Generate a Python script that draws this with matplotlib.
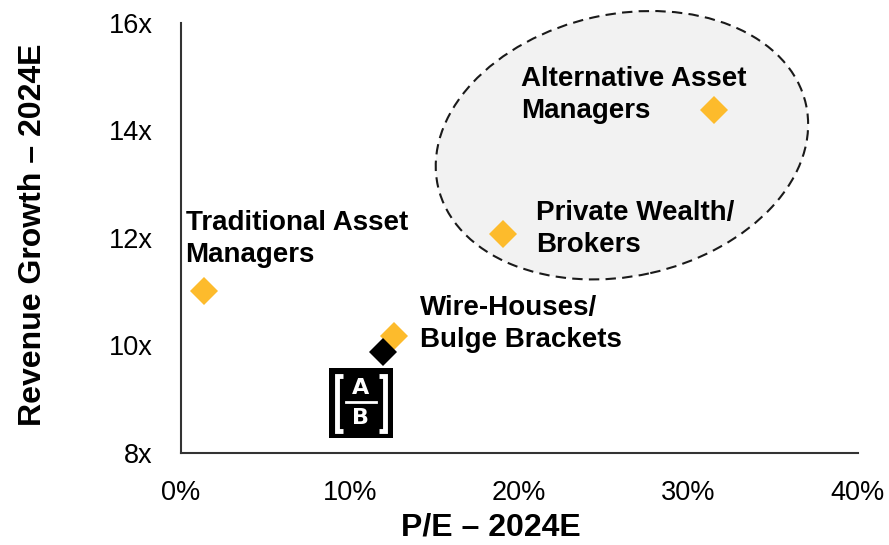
import matplotlib
matplotlib.use('Agg')
import matplotlib.pyplot as plt
from matplotlib.patches import Ellipse
from matplotlib.transforms import ScaledTranslation

plt.rcParams['font.family'] = ['Liberation Sans', 'DejaVu Sans']

# data
segments = ['Traditional Asset\nManagers', 'Wire-Houses/\nBulge Brackets',
            'Private Wealth/\nBrokers', 'Alternative Asset\nManagers']
pe = [1.35, 12.6, 19.05, 31.5]
growth = [11.0, 10.18, 12.06, 14.37]
ab_pe = 11.97
ab_growth = 9.88
xticks = [0, 10, 20, 30, 40]
xtick_labels = ['0%', '10%', '20%', '30%', '40%']
yticks = [8, 10, 12, 14, 16]
ytick_labels = ['8x', '10x', '12x', '14x', '16x']

# label offsets from each marker, in pixels (right, up)
label_offsets = [(-18, 81), (26, 41), (33, 34), (-193, 44)]

W, H = 889, 545
fig = plt.figure(figsize=(W / 100, H / 100), dpi=100)
ax = fig.add_axes([180.7 / W, 1 - 452.7 / H, 677 / W, 430 / H])

ax.set_xlim(0, 40)
ax.set_ylim(8, 16)

# dashed ellipse around the high-growth group
ell = Ellipse((0, 0), 3.77, 2.62, angle=12.5, facecolor='#F2F2F2',
              edgecolor='#1a1a1a', linestyle=(0, (5, 3)), linewidth=1.5,
              transform=fig.dpi_scale_trans + ScaledTranslation(26.07, 13.72, ax.transData),
              zorder=1, clip_on=False)
ax.add_patch(ell)

ax.plot(pe, growth, linestyle='none', marker='D', markersize=14.5,
        color='#FDBB2C', markeredgewidth=0, zorder=3)
ax.plot([ab_pe], [ab_growth], linestyle='none', marker='D', markersize=14.5,
        color='black', markeredgewidth=0, zorder=4)

for name, x, y, (dx, dy) in zip(segments, pe, growth, label_offsets):
    ax.annotate(name, (x, y), xytext=(dx * 0.72, dy * 0.72), textcoords='offset points',
                ha='left', va='top', fontsize=20, fontweight='bold',
                linespacing=1.3, zorder=5)

ax.set_xticks(xticks)
ax.set_xticklabels(xtick_labels)
ax.set_yticks(yticks)
ax.set_yticklabels(ytick_labels)
ax.tick_params(length=0, labelsize=19.5, pad=20)

for s in ['top', 'right']:
    ax.spines[s].set_visible(False)
for s in ['left', 'bottom']:
    ax.spines[s].set_color('#333333')
    ax.spines[s].set_linewidth(1.5)

ax.set_xlabel('P/E – 2024E', fontsize=23, fontweight='bold')
ax.set_ylabel('Revenue Growth – 2024E', fontsize=23, fontweight='bold')
ax.xaxis.set_label_coords(0.458, -0.175)
ax.xaxis.label.set_va('center')
ax.yaxis.set_label_coords(-0.218, 0.506)
ax.yaxis.label.set_va('center')

# AB logo
lg = fig.add_axes([329.3 / W, 1 - 438.3 / H, 63.4 / W, 70.6 / H])
lg.set_facecolor('black')
lg.set_xlim(0, 1)
lg.set_ylim(0, 1)
lg.set_xticks([])
lg.set_yticks([])
for s in lg.spines.values():
    s.set_visible(False)
bw = 3.5
lg.plot([0.21, 0.12, 0.12, 0.21], [0.88, 0.88, 0.11, 0.11], color='white', lw=bw,
        solid_capstyle='butt', solid_joinstyle='miter')
lg.plot([0.79, 0.88, 0.88, 0.79], [0.88, 0.88, 0.11, 0.11], color='white', lw=bw,
        solid_capstyle='butt', solid_joinstyle='miter')
lg.plot([0.26, 0.74], [0.515, 0.515], color='white', lw=2)
lg.text(0.5, 0.71, 'A', color='white', ha='center', va='center', fontsize=16,
        fontweight='bold', family=['Liberation Sans Narrow', 'DejaVu Sans'])
lg.text(0.5, 0.29, 'B', color='white', ha='center', va='center', fontsize=16,
        fontweight='bold', family=['Liberation Sans Narrow', 'DejaVu Sans'])

fig.savefig('out.png', dpi=100)
